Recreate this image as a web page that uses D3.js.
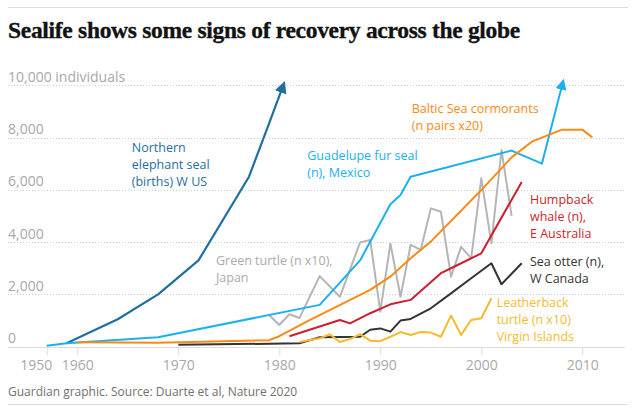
<!DOCTYPE html>
<html><head><meta charset="utf-8">
<script src="https://cdn.jsdelivr.net/npm/d3@7"></script>
<style>
body{margin:0;background:#fff;}
svg{display:block;}
</style></head>
<body>
<svg id="chart" width="636" height="412"></svg>
<script>
// ---- data ----
const title = "Sealife shows some signs of recovery across the globe";
const source = "Guardian graphic. Source: Duarte et al, Nature 2020";
const yTicks = [0, 2000, 4000, 6000, 8000, 10000];
const yTickLabels = ["0", "2,000", "4,000", "6,000", "8,000", "10,000 individuals"];
const xTicks = [1950, 1960, 1970, 1980, 1990, 2000, 2010];

const elephantSeal = [[1956.5,130],[1964,1050],[1968,2000],[1972,3300],[1977,6500],[1979,8550],[1980.3,9900]];
const guadalupeSeal = [[1950,40],[1956.5,130],[1968,360],[1984,1600],[1988,3300],[1991,5450],[1992,5800],[1993,6500],[2003,7500],[2006,7000],[2008,10000]];
const balticCormorants = [[1960,170],[1968,150],[1979,250],[1980,400],[1983,1020],[1989,2170],[1991,2680],[1993,3380],[1995,4020],[2000,5990],[2003,7240],[2005,7840],[2008,8300],[2010,8300],[2011,8000]];
const greenTurtle = [[1979,1210],[1980,830],[1981,1240],[1982,1100],[1984,2700],[1986,1910],[1988,3990],[1989,4080],[1990,1340],[1991,3950],[1992,1910],[1993,3890],[1994,3700],[1995,5290],[1996,5160],[1997,2680],[1998,3820],[1999,3380],[2000,6440],[2001,3950],[2002,7520],[2003,5000]];
const humpbackWhale = [[1981,400],[1986,1020],[1987,890],[1989,1280],[1991,1620],[1993,1790],[1996,2810],[1997,3000],[2000,3570],[2004,6300]];
const seaOtter = [[1970,70],[1982,130],[1984,360],[1988,380],[1989,650],[1990,700],[1991,575],[1992,1000],[1993,1060],[1995,1470],[1997,2040],[1999,2620],[2001,3190],[2002,2390],[2004,3190]];
const leatherback = [[1982,180],[1984,320],[1985,475],[1986,180],[1987,290],[1988,480],[1989,230],[1990,210],[1991,380],[1992,560],[1993,450],[1994,560],[1995,540],[1996,380],[1997,1190],[1998,450],[1999,1020],[2000,1090],[2001,1850]];

const seriesNames = [
  ["Northern", "elephant seal", "(births) W US"],
  ["Guadelupe fur seal", "(n), Mexico"],
  ["Baltic Sea cormorants", "(n pairs x20)"],
  ["Green turtle (n x10),", "Japan"],
  ["Humpback", "whale (n),", "E Australia"],
  ["Sea otter (n),", "W Canada"],
  ["Leatherback", "turtle (n x10)", "Virgin Islands"]
];
// ---- presentation ----
const colors = ["#1f6fa0", "#1cb0f0", "#f98a15", "#b5b5b5", "#cc1f2c", "#333333", "#f5bb2f"];
const seriesData = [elephantSeal, guadalupeSeal, balticCormorants, greenTurtle, humpbackWhale, seaOtter, leatherback];
const arrowEnd = [true, true, false, false, false, false, false];
const labelAnchors = [[1965.39,7445],[1982.77,7132],[1993.11,8945],[1973.73,3143],[2004.82,5465],[2004.82,3078],[2001.52,1526]];
const drawOrder = [3, 0, 1, 2, 4, 5, 6];

const svg = d3.select("#chart");
const left = 8, right = 625;
const x = d3.scaleLinear().domain([1950, 1960, 2015]).range([46.7, 77.3, 77.3 + 55 * 10.1]);
const y = d3.scaleLinear().domain([0, 10000]).range([346.7, 85.2]);
const fontSans = "'Open Sans', 'Noto Sans', sans-serif";

// top rule
svg.append("line").attr("x1", left).attr("x2", 628).attr("y1", 7.5).attr("y2", 7.5)
  .attr("stroke", "#dcdcdc").attr("stroke-width", 1);
// title
svg.append("text").attr("x", left).attr("y", 37.5)
  .attr("font-family", "'Liberation Serif', 'DejaVu Serif', serif").attr("font-weight", "bold")
  .attr("font-size", 23.5).attr("fill", "#121212").attr("letter-spacing", -0.3)
  .attr("stroke", "#121212").attr("stroke-width", 0.35).text(title);

// grid
const grid = svg.append("g");
yTicks.forEach((t, i) => {
  if (t !== 0) {
    grid.append("line").attr("x1", left).attr("x2", right).attr("y1", Math.round(y(t)) + 0.5).attr("y2", Math.round(y(t)) + 0.5)
      .attr("stroke", "#cfcfcf").attr("stroke-width", 1).attr("stroke-dasharray", "1,2");
  }
  grid.append("text").attr("x", left).attr("y", y(t) - 3.5)
    .attr("font-family", fontSans).attr("font-size", 14).attr("fill", "#a8a8a8").text(yTickLabels[i]);
});
// baseline + x axis
const xAxis = d3.axisBottom(x).tickValues(xTicks).tickSize(8).tickPadding(5).tickFormat(d3.format("d"));
const gx = svg.append("g").attr("transform", `translate(0,${Math.round(y(0)) + 0.5})`).call(xAxis);
gx.select(".domain").remove();
gx.insert("line", ":first-child").attr("x1", left).attr("x2", right).attr("stroke", "#dcdcdc");
gx.selectAll(".tick line").attr("stroke", "#dcdcdc");
gx.selectAll(".tick text").attr("font-family", fontSans).attr("font-size", 14).attr("fill", "#a8a8a8")
  .attr("dx", (d, i) => i === 0 ? -11 : 0);

// arrow marker
const defs = svg.append("defs");
colors.forEach((c, i) => {
  defs.append("marker").attr("id", "arr" + i).attr("viewBox", "0 0 10 10").attr("refX", 4).attr("refY", 5)
    .attr("markerWidth", 5.5).attr("markerHeight", 5.5).attr("orient", "auto").attr("markerUnits", "strokeWidth")
    .append("path").attr("d", "M0,0L10,5L0,10Z").attr("fill", c);
});

const line = d3.line().x(d => x(d[0])).y(d => y(d[1]));
drawOrder.forEach(i => {
  const p = svg.append("path").datum(seriesData[i]).attr("d", line)
    .attr("fill", "none").attr("stroke", colors[i]).attr("stroke-width", i === 0 ? 2.2 : 2)
    .attr("stroke-linejoin", "round");
  if (arrowEnd[i]) p.attr("marker-end", `url(#arr${i})`);
});

// labels
seriesNames.forEach((lines, i) => {
  const t = svg.append("text").attr("x", x(labelAnchors[i][0])).attr("y", y(labelAnchors[i][1]))
    .attr("font-family", fontSans).attr("font-size", 12.5).attr("fill", colors[i] === "#b5b5b5" ? "#aaaaaa" : colors[i]);
  lines.forEach((s, k) => {
    t.append("tspan").attr("x", x(labelAnchors[i][0])).attr("dy", k === 0 ? 0 : 17).text(s);
  });
});

// source
svg.append("text").attr("x", left).attr("y", 395.5).attr("font-family", fontSans).attr("font-size", 12)
  .attr("fill", "#707070").text(source);
svg.append("line").attr("x1", left).attr("x2", 628).attr("y1", 404.5).attr("y2", 404.5)
  .attr("stroke", "#dcdcdc");
</script>
</body></html>
